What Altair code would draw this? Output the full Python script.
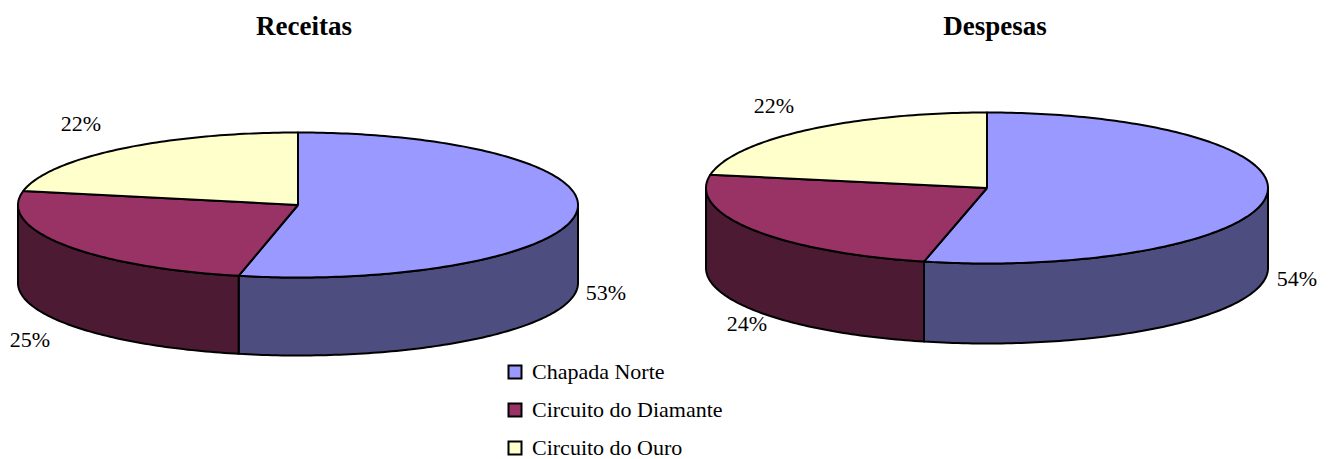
import math
import altair as alt
import pandas as pd

categories = ["Chapada Norte", "Circuito do Diamante", "Circuito do Ouro"]
receitas = [53.4, 24.7, 21.9]
despesas = [53.6, 24.2, 22.2]
receitas_labels = ["53%", "25%", "22%"]
despesas_labels = ["54%", "24%", "22%"]
top_colors = ["#9999FF", "#993366", "#FFFFCC"]
wall_colors = ["#4D4D80", "#4D1A33", "#808066"]

W, H = 1313, 451
# pie layout (centre x, centre y, radius x, radius y, depth), chart coordinates
pies = [("Receitas", receitas, 290, 197, 280, 72.5, 78),
        ("Despesas", despesas, 979, 180, 281, 75.5, 80)]


def ell(cx, cy, rx, ry, deg):
    a = math.radians(deg)
    return cx + rx * math.sin(a), cy - ry * math.cos(a)


tops, walls = [], []
for name, vals, cx, cy, rx, ry, depth in pies:
    start = 0.0
    for cat, v, wc in zip(categories, vals, wall_colors):
        end = start + v * 3.6
        key = f"{name}-{cat}"
        pts = [(cx, cy)]
        n = max(2, int(end - start) + 1)
        pts += [ell(cx, cy, rx, ry, start + (end - start) * i / (n - 1)) for i in range(n)]
        pts.append((cx, cy))
        for i, (x, y) in enumerate(pts):
            tops.append(dict(key=key, cat=cat, o=i, x=x, y=y))
        a, b = max(start, 90), min(end, 270)
        if b > a:
            n = int(b - a) + 2
            edge = [ell(cx, cy, rx, ry, a + (b - a) * i / (n - 1)) for i in range(n)]
            poly = edge + [(x, y + depth) for x, y in reversed(edge)] + [edge[0]]
            for i, (x, y) in enumerate(poly):
                walls.append(dict(key=key, fill=wc, o=i, x=x, y=y))
        start = end

x_enc = alt.X("x:Q", axis=None, scale=alt.Scale(domain=[0, W], range=[0, W]))
y_enc = alt.Y("y:Q", axis=None, scale=alt.Scale(domain=[0, H], range=[0, H]))

wall_layer = alt.Chart(pd.DataFrame(walls)).mark_line(
    filled=True, stroke="black", strokeWidth=2, strokeJoin="round"
).encode(x=x_enc, y=y_enc, order="o:Q", detail="key:N",
         color=alt.Color("fill:N", scale=None))

top_layer = alt.Chart(pd.DataFrame(tops)).mark_line(
    filled=True, stroke="black", strokeWidth=2, strokeJoin="round"
).encode(
    x=x_enc, y=y_enc, order="o:Q", detail="key:N",
    color=alt.Color("cat:N", title=None,
                    scale=alt.Scale(domain=categories, range=top_colors),
                    legend=alt.Legend(orient="none", legendX=496, legendY=353,
                                      symbolType="square", symbolSize=169,
                                      symbolStrokeColor="black", symbolStrokeWidth=2,
                                      symbolFillColor="white",
                                      labelFont="Liberation Serif", labelFontSize=22,
                                      labelColor="black", labelOffset=6,
                                      rowPadding=16, labelLimit=300, padding=0)),
)

pct = pd.DataFrame({
    "t": receitas_labels + despesas_labels,
    "x": [598, 22, 73, 1289, 739, 766],
    "y": [285, 332, 116, 271, 316, 98],
})
pct_layer = alt.Chart(pct).mark_text(
    font="Liberation Serif", fontSize=22, color="black"
).encode(x=x_enc, y=y_enc, text="t:N")

ttl = pd.DataFrame({"t": ["Receitas", "Despesas"], "x": [296, 987], "y": [19, 19]})
ttl_layer = alt.Chart(ttl).mark_text(
    font="Liberation Serif", fontSize=27, fontWeight="bold", color="black"
).encode(x=x_enc, y=y_enc, text="t:N")

chart = alt.layer(wall_layer, top_layer, pct_layer, ttl_layer).resolve_scale(
    color="independent"
).properties(
    width=W, height=H, padding=0, autosize=alt.AutoSizeParams(type="none")
).configure_view(stroke=None)

chart.save("out.html", embed_options={"renderer": "svg", "actions": False})
